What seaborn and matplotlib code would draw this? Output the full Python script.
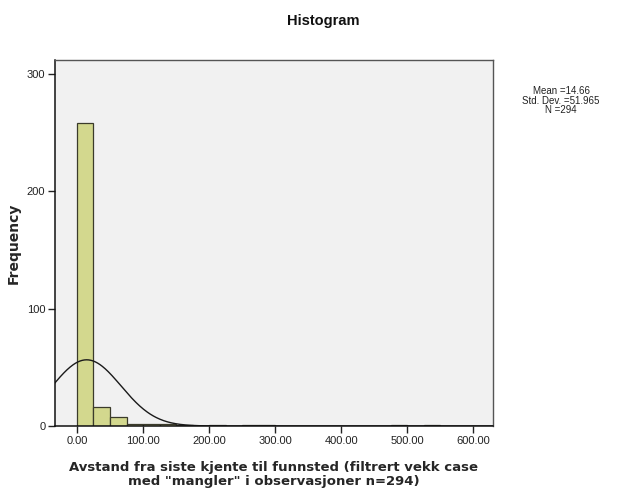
import numpy as np
import pandas as pd
import matplotlib
matplotlib.use("Agg")
import matplotlib.pyplot as plt
import seaborn as sns

# Data
bin_edges = [0, 25, 50, 75, 100, 125, 150, 175, 200, 225, 250, 275, 300, 325,
             350, 375, 400, 425, 450, 475, 500, 525, 550, 575, 600]
counts = [258, 16, 8, 2, 2, 2, 1, 0, 1, 0, 1, 1, 0, 0,
          0, 0, 0, 0, 0, 1, 0, 1, 0, 0]
x_ticks = [0, 100, 200, 300, 400, 500, 600]
x_ticklabels = ["0.00", "100.00", "200.00", "300.00", "400.00", "500.00", "600.00"]
y_ticks = [0, 100, 200, 300]
mean_val = 14.66
std_val = 51.965
n_val = 294

sns.set_theme(style="white")
plt.rcParams['font.family'] = ['Liberation Sans', 'DejaVu Sans']

centers = [(a + b) / 2 for a, b in zip(bin_edges[:-1], bin_edges[1:])]
df = pd.DataFrame({"x": centers, "w": counts})

fig = plt.figure(figsize=(6.22, 4.91), dpi=100)
ax = fig.add_axes([0.0884, 0.1324, 0.7042, 0.7454])
ax.set_facecolor("#f1f1f1")

sns.histplot(data=df, x="x", weights="w", bins=bin_edges, ax=ax,
             color="#d3d88e", edgecolor="#3b3b2b", linewidth=0.9, alpha=1.0)

# fitted normal curve
xs = np.linspace(-40, 640, 600)
bw = bin_edges[1] - bin_edges[0]
ys = n_val * bw / (std_val * np.sqrt(2 * np.pi)) * np.exp(-0.5 * ((xs - mean_val) / std_val) ** 2)
ax.plot(xs, ys, color="#1a1a1a", lw=1.0)

ax.set_xlim(-33.3, 630)
ax.set_ylim(0, 312)
ax.set_xticks(x_ticks)
ax.set_xticklabels(x_ticklabels)
ax.set_yticks(y_ticks)
ax.tick_params(axis="both", direction="out", length=5, width=1, color="#222222",
               labelsize=8, labelcolor="#222222", pad=2)
ax.tick_params(axis="x", bottom=True)
ax.tick_params(axis="y", left=True)
for s in ["left", "bottom"]:
    ax.spines[s].set_color("#111111")
    ax.spines[s].set_linewidth(1.1)
for s in ["top", "right"]:
    ax.spines[s].set_color("#555555")
    ax.spines[s].set_linewidth(1.0)

ax.set_ylabel("Frequency", fontsize=10, fontweight="bold", family="DejaVu Sans", labelpad=4)
ax.set_xlabel("Avstand fra siste kjente til funnsted (filtrert vekk case\nmed \"mangler\" i observasjoner n=294)",
              fontsize=9.5, fontweight="bold", family="DejaVu Sans", labelpad=11, linespacing=1.1)

fig.text(0.52, 0.958, "Histogram", ha="center", va="center", fontsize=10.5,
         fontweight="bold", color="#111111")
fig.text(0.902, 0.795, "Mean =%.2f\nStd. Dev. =%.3f\nN =%d" % (mean_val, std_val, n_val),
         ha="center", va="center", fontsize=7, color="#222222", linespacing=0.95)

fig.savefig("out.png", dpi=100)
